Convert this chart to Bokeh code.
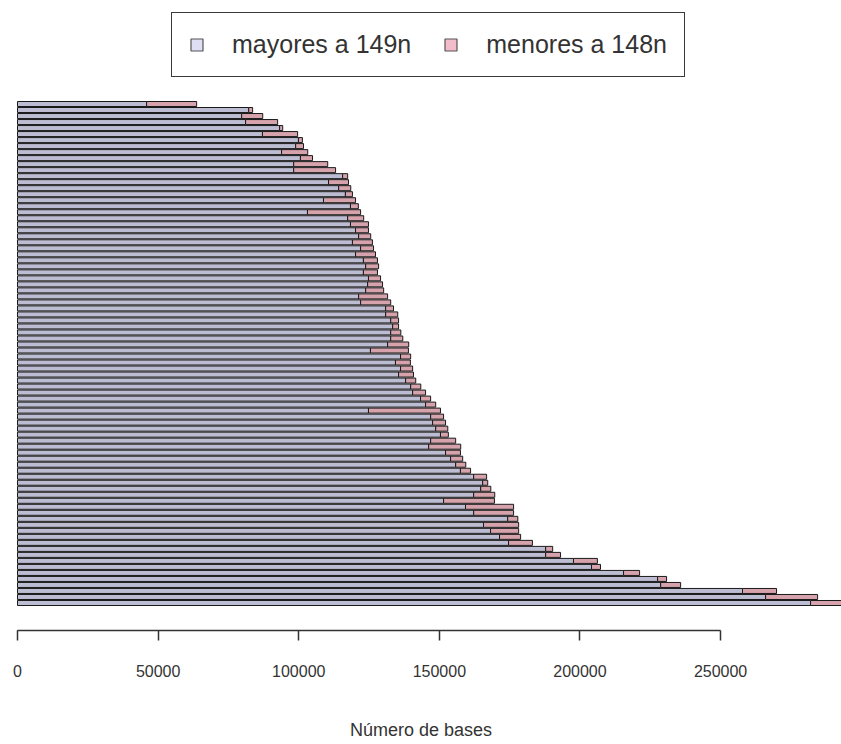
from bokeh.plotting import figure
from bokeh.models import (Range1d, LinearAxis, FixedTicker, BasicTickFormatter,
                          Legend, LegendItem, ColumnDataSource)
from bokeh.embed import file_html
from bokeh.resources import INLINE

# Bases per sequence, listed from the top bar down to the bottom bar
mayores = [
    45900, 82200, 79700, 81100, 93200, 87100, 99900, 98900, 93900, 100600,
    98200, 98200, 115600, 110600, 114200, 116600, 108800, 118400, 103100, 117400,
    118400, 120200, 121300, 119100, 122000, 120200, 123000, 123800, 123000, 124800,
    124500, 123800, 121300, 122000, 130900, 130900, 132700, 133400, 132700, 132700,
    131600, 125500, 136200, 134400, 136200, 135500, 138000, 139800, 140500, 143300,
    145100, 124800, 146900, 147600, 148700, 150400, 146900, 146200, 152200, 154000,
    155800, 157500, 162200, 165400, 164700, 162200, 151500, 159300, 162200, 174300,
    165700, 168200, 171400, 174600, 187800, 187800, 197700, 204100, 215500, 227600,
    228700, 257800, 266000, 282000,
]
menores = [
    17800, 1400, 7500, 11400, 1100, 12500, 1400, 2800, 9300, 4300,
    12100, 14900, 1800, 7100, 4300, 2500, 11400, 2800, 18900, 5700,
    6400, 4600, 4300, 7100, 4600, 7100, 5000, 4600, 5000, 4300,
    5300, 6400, 10300, 10700, 2800, 4300, 2800, 2100, 3600, 4300,
    7500, 13500, 3600, 5300, 4300, 5300, 3600, 3600, 4600, 3600,
    3600, 25600, 4600, 4600, 4300, 2800, 8900, 11400, 5300, 4300,
    3600, 3600, 4600, 1800, 3600, 7500, 18100, 17100, 14200, 3600,
    12500, 10000, 7500, 8500, 2500, 5300, 8500, 3200, 5700, 3200,
    7100, 12100, 18500, 11500,
]
series_labels = ["mayores a 149n", "menores a 148n"]
bar_colors = ["#bcbcd2", "#d6a2ac"]
key_colors = ["#dedef4", "#f2bccb"]
x_ticks = [0, 50000, 100000, 150000, 200000, 250000]
x_title = "Número de bases"

n = len(mayores)
# barplot-style positions: unit bar height with 0.2 spacing, first bar at the bottom
ypos = [0.7 + 1.2 * (n - 1 - i) for i in range(n)]
source = ColumnDataSource(dict(y=ypos, mayores=mayores, menores=menores))

# the frame reaches the top edge so the legend can sit above the bars
p = figure(frame_width=841, frame_height=630, output_backend="svg",
           toolbar_location=None,
           x_range=Range1d(-6050, 293000), y_range=Range1d(-4.79, 120.96),
           x_axis_location=None, y_axis_location=None,
           min_border_left=0, min_border_right=0, min_border_top=0,
           min_border_bottom=0)
p.outline_line_color = None
p.grid.visible = False
p.background_fill_color = "white"
p.border_fill_color = "white"

bars = p.hbar_stack(["mayores", "menores"], y="y", height=1.0, source=source,
                    fill_color=bar_colors, line_color="#1a1a1a", line_width=1)

# zero-width, out-of-view renderers that only supply the pale key swatches
keys = [p.hbar(y=[-10], left=[0], right=[0], height=1.0, fill_color=c,
               line_color="#555555", line_width=1.2) for c in key_colors]

xaxis = LinearAxis(bounds=(0, 250000), ticker=FixedTicker(ticks=x_ticks),
                   formatter=BasicTickFormatter(use_scientific=False),
                   axis_label=x_title)
xaxis.major_tick_in = 0
xaxis.major_tick_out = 10
xaxis.minor_tick_in = 0
xaxis.minor_tick_out = 0
xaxis.axis_line_color = "#333333"
xaxis.axis_line_width = 1.5
xaxis.major_tick_line_color = "#333333"
xaxis.major_tick_line_width = 1.5
xaxis.major_label_text_font = "Liberation Sans"
xaxis.major_label_text_font_size = "16px"
xaxis.major_label_text_color = "#333333"
xaxis.major_label_standoff = 24
xaxis.axis_label_text_font = "Liberation Sans"
xaxis.axis_label_text_font_style = "normal"
xaxis.axis_label_text_font_size = "18px"
xaxis.axis_label_text_color = "#333333"
xaxis.axis_label_standoff = 40
p.add_layout(xaxis, "below")

legend = Legend(items=[LegendItem(label=series_labels[0], renderers=[keys[0]]),
                       LegendItem(label=series_labels[1], renderers=[keys[1]])],
                orientation="horizontal", location=(171, 553))
legend.glyph_width = 15
legend.glyph_height = 15
legend.label_standoff = 28
legend.spacing = 32
legend.padding = 17
legend.margin = 0
legend.border_line_color = "#3a3a3a"
legend.border_line_alpha = 1.0
legend.border_line_width = 1.5
legend.label_text_font = "Liberation Sans"
legend.label_text_font_size = "25px"
legend.label_text_color = "#333333"
p.add_layout(legend, "center")

open("out.html", "w").write(file_html(p, INLINE))
